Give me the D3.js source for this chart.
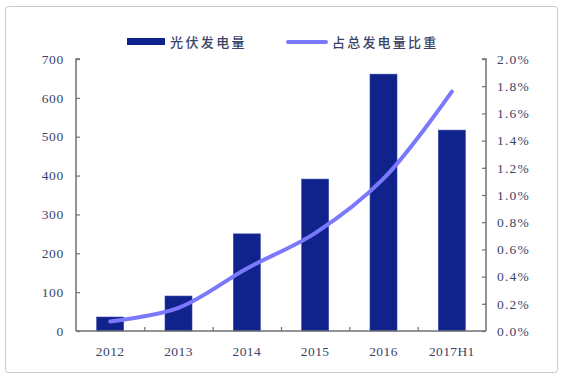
<!DOCTYPE html>
<html><head><meta charset="utf-8">
<script src="https://cdn.jsdelivr.net/npm/d3@7/dist/d3.min.js"></script>
<style>body{margin:0;background:#fff}svg{display:block}</style>
</head><body>
<script>
const categories = ["2012","2013","2014","2015","2016","2017H1"];
const pvGeneration = [36, 90, 250, 391, 661, 517];
const shareOfTotal = [0.0007, 0.0017, 0.0046, 0.0072, 0.0112, 0.0176];
const leftTicks = [0,100,200,300,400,500,600,700];
const rightTicks = [0,0.002,0.004,0.006,0.008,0.010,0.012,0.014,0.016,0.018,0.020];
const seriesNames = ["光伏发电量","占总发电量比重"];

const W = 565, H = 380;
const svg = d3.select("body").append("svg").attr("width", W).attr("height", H);
svg.append("rect").attr("x",5.5).attr("y",6.5).attr("width",552).attr("height",366)
  .attr("rx",3).attr("fill","#fff").attr("stroke","#c9c9c9").attr("stroke-width",1);

const m = {left:76, right:486, top:59, bottom:331};
const x = d3.scaleBand().domain(categories).range([m.left, m.right]).paddingInner(0).paddingOuter(0);
const yL = d3.scaleLinear().domain([0,700]).range([m.bottom, m.top]);
const yR = d3.scaleLinear().domain([0,0.02]).range([m.bottom, m.top]);
const barW = 27;
const txtColor = "#3b4468";
const serif = "'Liberation Serif','DejaVu Serif',serif";

// bars
svg.append("g").selectAll("rect").data(categories).join("rect")
  .attr("x", d => x(d) + x.bandwidth()/2 - barW/2)
  .attr("y", (d,i) => yL(pvGeneration[i]))
  .attr("width", barW)
  .attr("height", (d,i) => yL(0) - yL(pvGeneration[i]))
  .attr("fill", "#10238d").attr("stroke","#3446a6").attr("stroke-width",0.6);

// line
const line = d3.line()
  .x((d,i) => x(categories[i]) + x.bandwidth()/2)
  .y(d => yR(d))
  .curve(d3.curveCatmullRom.alpha(0.5));
svg.append("path").datum(shareOfTotal).attr("d", line)
  .attr("fill","none").attr("stroke","#7b79fb").attr("stroke-width",4).attr("stroke-linecap","round");

// axes
const axisColor = "#707070";
const gL = svg.append("g").attr("transform", `translate(${m.left},0)`)
  .call(d3.axisRight(yL).tickValues(leftTicks).tickSize(4).tickFormat(""));
const gR = svg.append("g").attr("transform", `translate(${m.right},0)`)
  .call(d3.axisLeft(yR).tickValues(rightTicks).tickSize(4).tickFormat(""));
const bounds = categories.slice(1).map(c => x(c));
const xb = d3.scaleLinear().domain([m.left, m.right]).range([m.left, m.right]);
const gX = svg.append("g").attr("transform", `translate(0,${m.bottom})`)
  .call(d3.axisTop(xb).tickValues(bounds).tickSize(4).tickFormat("").tickSizeOuter(0));
[gL,gR,gX].forEach(g => {
  g.selectAll("path.domain").attr("stroke", axisColor).attr("stroke-width",1.5);
  g.selectAll(".tick line").attr("stroke", axisColor).attr("stroke-width",1.2);
});
gX.selectAll("path.domain").attr("d", `M${m.left},0H${m.right}`);
gL.selectAll("path.domain").attr("d", `M4,${m.top}H0V${m.bottom}`);
gR.selectAll("path.domain").attr("d", `M-4,${m.top}H0V${m.bottom}`);

// tick labels
svg.append("g").selectAll("text").data(leftTicks).join("text")
  .attr("x", 64).attr("y", d => yL(d)).attr("dy","0.35em").attr("text-anchor","end")
  .attr("font-family", serif).attr("font-size",13.5).attr("letter-spacing",0.7).attr("fill",txtColor).text(d => d);
svg.append("g").selectAll("text").data(rightTicks).join("text")
  .attr("x", 497).attr("y", d => yR(d)).attr("dy","0.35em").attr("text-anchor","start")
  .attr("font-family", serif).attr("font-size",13.5).attr("letter-spacing",1.2).attr("fill",txtColor).text(d => d3.format(".1%")(d));
svg.append("g").selectAll("text").data(categories).join("text")
  .attr("x", d => x(d) + x.bandwidth()/2).attr("y", 351).attr("dy","0.35em").attr("text-anchor","middle")
  .attr("font-family", serif).attr("font-size",13.5).attr("letter-spacing",0.4).attr("fill",txtColor).text(d => d);

// legend
const lg = svg.append("g");
lg.append("rect").attr("x",127).attr("y",38).attr("width",38).attr("height",7).attr("fill","#10238d");
lg.append("text").attr("x",170).attr("y",42).attr("dy","0.35em")
  .attr("font-family","'Noto Sans CJK SC',sans-serif").attr("font-size",13).attr("font-weight",500)
  .attr("letter-spacing",2.4).attr("fill",txtColor).text(seriesNames[0]);
lg.append("line").attr("x1",288).attr("x2",326).attr("y1",42).attr("y2",42)
  .attr("stroke","#7b79fb").attr("stroke-width",4).attr("stroke-linecap","round");
lg.append("text").attr("x",332).attr("y",42).attr("dy","0.35em")
  .attr("font-family","'Noto Sans CJK SC',sans-serif").attr("font-size",13).attr("font-weight",500)
  .attr("letter-spacing",2.2).attr("fill",txtColor).text(seriesNames[1]);
</script>
</body></html>
